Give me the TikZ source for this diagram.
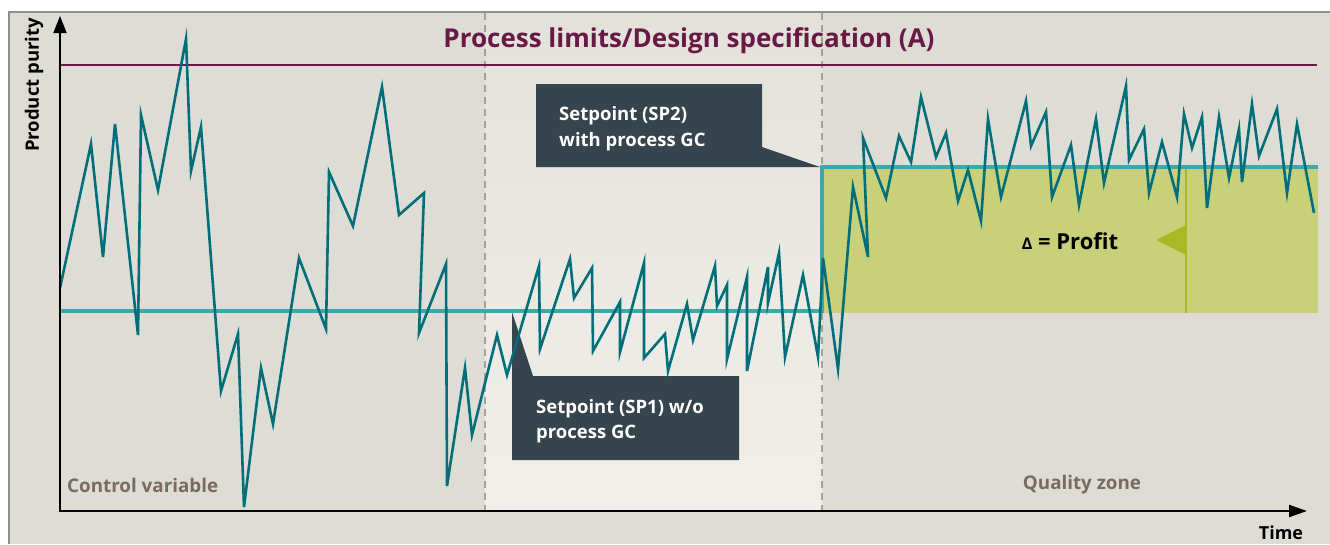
\documentclass[tikz,border=0pt]{standalone}
\usepackage{fontspec}
\setmainfont{Open Sans}
\usetikzlibrary{arrows.meta}
\definecolor{bgc}{HTML}{DEDDD5}
\definecolor{framec}{HTML}{8E8E8E}
\definecolor{bandtop}{HTML}{E3E2DA}
\definecolor{bandbot}{HTML}{F0EFEA}
\definecolor{dashc}{HTML}{A5A398}
\definecolor{tealc}{HTML}{006F7A}
\definecolor{spc}{HTML}{3BA9AC}
\definecolor{maroonc}{HTML}{6A1846}
\definecolor{greenc}{HTML}{C8D07A}
\definecolor{olivec}{HTML}{A9B824}
\definecolor{callc}{HTML}{36444E}
\definecolor{labelc}{HTML}{7A6A5F}
\begin{document}
\begin{tikzpicture}[x=1pt,y=-1pt,
  callout/.style={fill=callc},
  calltext/.style={text=white, font=\bfseries\fontsize{18.5}{22}\selectfont, anchor=base west, inner sep=0pt},
  zonetext/.style={text=labelc, font=\bfseries\fontsize{18.8}{22}\selectfont, inner sep=0pt},
  zonesep/.style={dashc, line width=1.2pt, dash pattern=on 7pt off 5pt},
  signal/.style={tealc, line width=2.6pt, line join=miter},
  setpt/.style={spc, line width=3.5pt},
  axis/.style={black, line width=2pt}]
\useasboundingbox (0,0) rectangle (1330,544);
\fill[white] (0,0) rectangle (1330,544);
\fill[bgc] (9,12) rectangle (1330,544);
\draw[framec, line width=2pt] (9,544) -- (9,12) -- (1330,12);
% middle band
\shade[top color=bandtop, bottom color=bandbot] (485,13) rectangle (822,511);
\draw[zonesep] (485,13) -- (485,511);
\draw[zonesep] (822,13) -- (822,511);
% profit area
\fill[greenc] (822,167) rectangle (1318,313);
\draw[olivec, line width=2pt] (1186,167) -- (1186,313);
\fill[olivec] (1186,225) -- (1156,240) -- (1186,255) -- cycle;
% process limit
\draw[maroonc, line width=2.5pt] (60,65) -- (1317,65);
\node[text=maroonc, font=\bfseries\fontsize{26}{30}\selectfont] (title) at (689,41) {Process limits/Design specification (A)};
% callouts
\fill[callout] (536,84) -- (762,84) -- (762,147) -- (820,167) -- (536,167) -- cycle;
\node[calltext] (sp2a) at (559,120) {Setpoint (SP2)};
\node[calltext] (sp2b) at (559,146) {with process GC};
\fill[callout] (512,312) -- (533,376) -- (739,376) -- (739,460) -- (512,460) -- cycle;
\node[calltext] (sp1a) at (536,413) {Setpoint (SP1) w/o};
\node[calltext] (sp1b) at (536,438) {process GC};
% setpoints
\draw[setpt] (60,311) -- (822,311) -- (822,167) -- (1318,167);
% signal
\draw[signal] (60,288) -- (91,144) -- (103,257) -- (115,124) -- (138,335) -- (141,115) -- (158,190) -- (186,39) -- (191,171) -- (201,127) -- (221,391) -- (238,334) -- (244,507) -- (261,368) -- (273,424) -- (299,258) -- (326,329) -- (329,172) -- (353,226) -- (382,87) -- (399,215) -- (424,193) -- (419,333) -- (446,264) -- (447,486) -- (465,368) -- (472,435) -- (497,335) -- (507,375) -- (539,266) -- (540,349) -- (570,259) -- (574,298) -- (592,268) -- (593,351) -- (620,302) -- (620,352) -- (644,263) -- (644,358) -- (665,334) -- (668,371) -- (687,304) -- (693,340) -- (715,266) -- (717,306) -- (727,285) -- (727,359) -- (747,277) -- (747,371) -- (768,267) -- (768,303) -- (779,253) -- (785,357) -- (803,275) -- (818,357) -- (823,258) -- (838,369) -- (853,187) -- (868,257) -- (863,138) -- (886,198) -- (899,136) -- (911,162) -- (921,97) -- (936,157) -- (946,133) -- (958,201) -- (968,170) -- (981,221) -- (988,119) -- (1001,197) -- (1026,101) -- (1031,146) -- (1046,112) -- (1052,197) -- (1071,145) -- (1079,205) -- (1096,119) -- (1104,183) -- (1126,86) -- (1129,160) -- (1144,129) -- (1149,193) -- (1162,142) -- (1177,197) -- (1184,114) -- (1192,148) -- (1202,117) -- (1207,208) -- (1219,117) -- (1229,178) -- (1239,129) -- (1242,182) -- (1252,104) -- (1259,156) -- (1277,109) -- (1287,193) -- (1297,124) -- (1314,213);
% axes
\coordinate (ytip) at (60,16);
\coordinate (origin) at (60,511);
\coordinate (xtip) at (1307,511);
\draw[axis, {Triangle[length=17pt,width=13pt]}-{Triangle[length=18pt,width=12pt]}] (ytip) -- (origin) -- (xtip);
% labels
\node[rotate=90, font=\bfseries\fontsize{18.5}{22}\selectfont] (ylab) at (34,85) {Product purity};
\node[font=\bfseries\fontsize{18}{22}\selectfont] (xlab) at (1281,533) {Time};
\node[zonetext, anchor=west] (cv) at (67,485) {Control variable};
\node[zonetext] (qz) at (1082,485) {Quality zone};
\node[font=\bfseries\fontsize{22}{26}\selectfont] (profit) at (1070,241) {{\fontsize{16}{18}\selectfont Δ} = Profit};
\end{tikzpicture}
\end{document}
